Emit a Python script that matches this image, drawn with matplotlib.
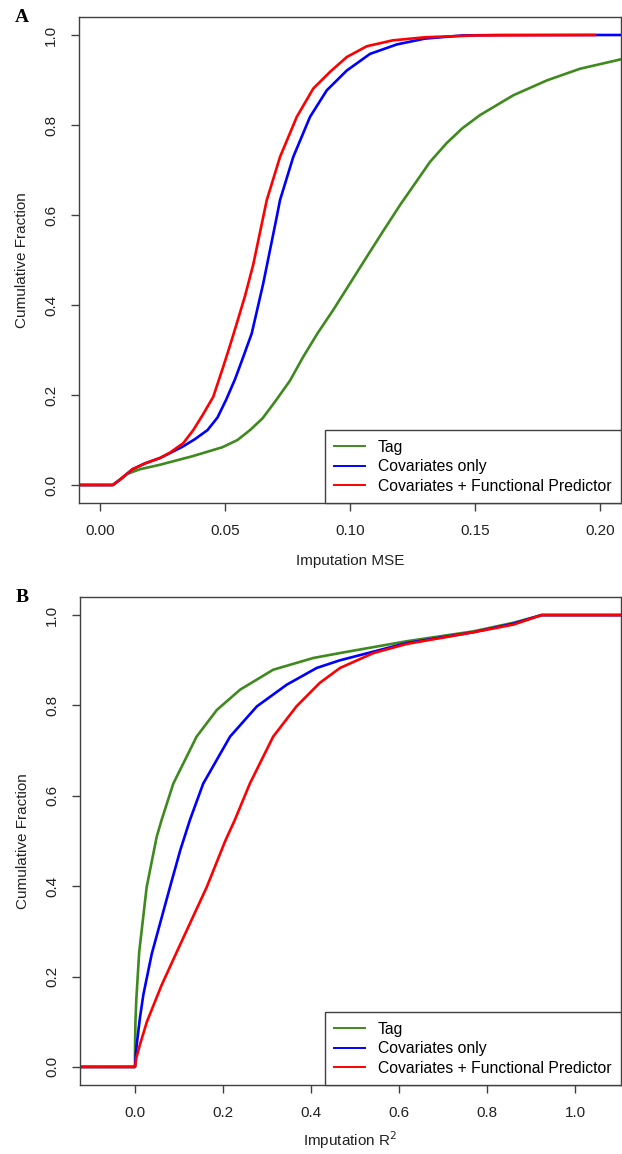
import matplotlib
matplotlib.use("Agg")
import matplotlib.pyplot as plt
from matplotlib.lines import Line2D

plt.rcParams['font.family'] = ['Liberation Sans', 'DejaVu Sans']

series_names = ["Tag", "Covariates only", "Covariates + Functional Predictor"]
colors = ["#3f8a1f", "#0000ff", "#ff0000"]

# Panel A: Imputation MSE
a_tag_x = [-0.0084, 0.005, 0.008, 0.011, 0.016, 0.024, 0.037, 0.049, 0.055, 0.060, 0.065, 0.070,
           0.076, 0.0813, 0.087, 0.0933, 0.100, 0.1067, 0.113, 0.120, 0.126, 0.132, 0.1387, 0.145,
           0.152, 0.1653, 0.1787, 0.192, 0.2084]
a_tag_y = [0.0, 0.0, 0.012, 0.025, 0.035, 0.045, 0.064, 0.084, 0.100, 0.122, 0.148, 0.185,
           0.232, 0.285, 0.337, 0.389, 0.448, 0.507, 0.562, 0.622, 0.670, 0.718, 0.760, 0.793,
           0.822, 0.866, 0.899, 0.925, 0.946]
a_cov_x = [-0.0084, 0.0052, 0.008, 0.013, 0.018, 0.024, 0.028, 0.033, 0.038, 0.043, 0.047,
           0.0505, 0.054, 0.057, 0.0607, 0.0653, 0.0707, 0.072, 0.0773, 0.084, 0.0907, 0.0987,
           0.108, 0.1187, 0.130, 0.145, 0.160, 0.2084]
a_cov_y = [0.0, 0.0, 0.012, 0.035, 0.048, 0.060, 0.071, 0.085, 0.102, 0.122, 0.150,
           0.190, 0.235, 0.280, 0.337, 0.448, 0.596, 0.633, 0.729, 0.818, 0.877, 0.921,
           0.958, 0.979, 0.992, 0.999, 1.0, 1.0]
a_fun_x = [-0.0084, 0.0052, 0.008, 0.013, 0.018, 0.024, 0.028, 0.0333, 0.0373, 0.041, 0.0453,
           0.0493, 0.052, 0.0547, 0.058, 0.0613, 0.0653, 0.0667, 0.072, 0.0787, 0.0853, 0.092,
           0.0987, 0.1067, 0.117, 0.130, 0.150, 0.198]
a_fun_y = [0.0, 0.0, 0.012, 0.035, 0.048, 0.060, 0.072, 0.093, 0.122, 0.155, 0.196,
           0.263, 0.310, 0.359, 0.420, 0.490, 0.596, 0.633, 0.729, 0.818, 0.881, 0.918,
           0.951, 0.975, 0.988, 0.995, 0.999, 1.0]

# Panel B: Imputation R^2
b_tag_x = [-0.125, 0.0, 0.0, 0.001, 0.003, 0.0095, 0.0265, 0.0492, 0.0606, 0.087, 0.140,
           0.186, 0.239, 0.314, 0.405, 0.466, 0.617, 0.769, 0.860, 0.924, 1.1045]
b_tag_y = [0.0, 0.0, 0.04, 0.10, 0.15, 0.254, 0.398, 0.509, 0.547, 0.627, 0.731,
           0.790, 0.835, 0.879, 0.905, 0.916, 0.942, 0.964, 0.983, 1.0, 1.0]
b_cov_x = [-0.125, 0.0, 0.002, 0.004, 0.0114, 0.019, 0.038, 0.0795, 0.103, 0.125, 0.155,
           0.216, 0.277, 0.345, 0.413, 0.466, 0.617, 0.769, 0.860, 0.924, 1.1045]
b_cov_y = [0.0, 0.0, 0.03, 0.05, 0.11, 0.16, 0.25, 0.398, 0.480, 0.547, 0.627,
           0.731, 0.798, 0.846, 0.883, 0.900, 0.938, 0.962, 0.981, 1.0, 1.0]
b_fun_x = [-0.125, 0.0, 0.003, 0.0114, 0.027, 0.060, 0.0947, 0.163, 0.205, 0.227, 0.261, 0.314,
           0.367, 0.420, 0.466, 0.489, 0.542, 0.617, 0.769, 0.860, 0.924, 1.1045]
b_fun_y = [0.0, 0.0, 0.02, 0.05, 0.10, 0.18, 0.254, 0.398, 0.500, 0.547, 0.627, 0.731,
           0.798, 0.850, 0.883, 0.893, 0.916, 0.936, 0.962, 0.979, 1.0, 1.0]

a_xticks = [0.00, 0.05, 0.10, 0.15, 0.20]
a_xticklabels = ["0.00", "0.05", "0.10", "0.15", "0.20"]
b_xticks = [0.0, 0.2, 0.4, 0.6, 0.8, 1.0]
b_xticklabels = ["0.0", "0.2", "0.4", "0.6", "0.8", "1.0"]
yticks = [0.0, 0.2, 0.4, 0.6, 0.8, 1.0]
yticklabels = ["0.0", "0.2", "0.4", "0.6", "0.8", "1.0"]

W, H = 622, 1154
fig = plt.figure(figsize=(W / 100, H / 100), dpi=100)


def px_axes(left, top, right, bottom):
    return fig.add_axes([left / W, 1 - bottom / H, (right - left) / W, (bottom - top) / H])


spine_col = "#404040"


def style(ax, xlim, xticks, xlabels, xlabel, xlabelpad):
    ax.set_xlim(*xlim)
    ax.set_ylim(-0.04, 1.04)
    ax.set_xticks(xticks)
    ax.set_xticklabels(xlabels)
    ax.set_yticks(yticks)
    ax.set_yticklabels(yticklabels, rotation=90, va="center")
    ax.tick_params(direction="out", length=6, width=1, color=spine_col,
                   labelsize=11, pad=9, labelcolor="#222222")
    for s in ax.spines.values():
        s.set_color(spine_col)
        s.set_linewidth(1.0)
    ax.set_ylabel("Cumulative Fraction", fontsize=11, labelpad=11, color="#222222")
    ax.set_xlabel(xlabel, fontsize=11, labelpad=xlabelpad, color="#222222")
    handles = [Line2D([0], [0], color=c, lw=1.4) for c in colors]
    leg = ax.legend(handles, series_names, loc="lower right", bbox_to_anchor=(1.0, 0.0),
                    borderaxespad=0, fancybox=False, framealpha=1, edgecolor=spine_col,
                    fontsize=11.3, handlelength=2.0, handletextpad=0.8, labelspacing=0.28,
                    borderpad=0.6)
    leg.get_frame().set_linewidth(1.0)


axA = px_axes(79, 17, 621, 503)
for xs, ys, c in [(a_tag_x, a_tag_y, colors[0]), (a_cov_x, a_cov_y, colors[1]),
                  (a_fun_x, a_fun_y, colors[2])]:
    axA.plot(xs, ys, color=c, lw=1.9, solid_joinstyle="round")
style(axA, (-0.0084, 0.2084), a_xticks, a_xticklabels, "Imputation MSE", 12)

axB = px_axes(80, 597, 621, 1085)
for xs, ys, c in [(b_tag_x, b_tag_y, colors[0]), (b_cov_x, b_cov_y, colors[1]),
                  (b_fun_x, b_fun_y, colors[2])]:
    axB.plot(xs, ys, color=c, lw=1.9, solid_joinstyle="round")
style(axB, (-0.125, 1.1045), b_xticks, b_xticklabels, "Imputation R$^2$", 7)

fig.text(22 / W, 1 - 17 / H, "A", fontsize=14, fontweight="bold", ha="center", va="center",
         family=["Liberation Serif", "DejaVu Serif"])
fig.text(22 / W, 1 - 597 / H, "B", fontsize=14, fontweight="bold", ha="center", va="center",
         family=["Liberation Serif", "DejaVu Serif"])

fig.savefig("out.png", dpi=100)
